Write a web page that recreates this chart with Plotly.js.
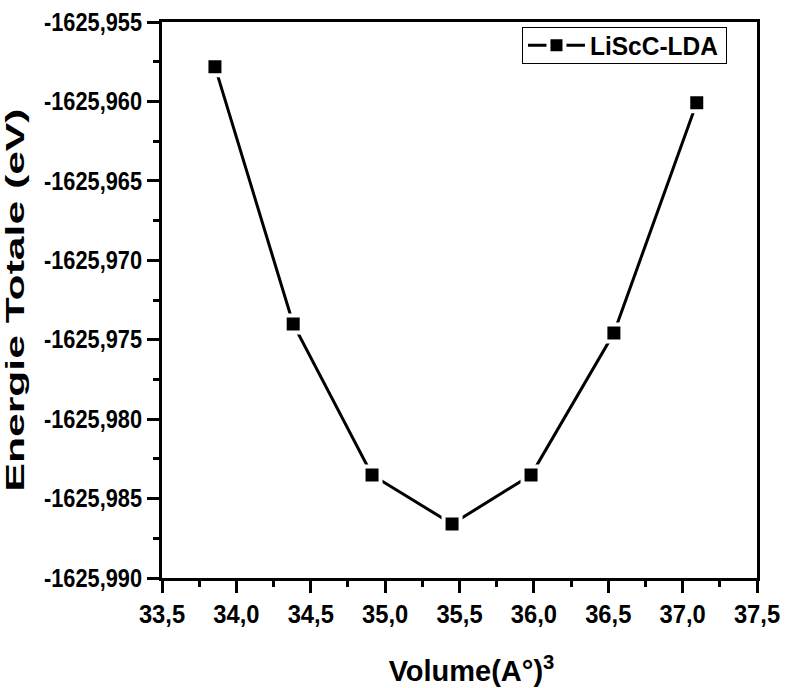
<!DOCTYPE html>
<html>
<head>
<meta charset="utf-8">
<script src="https://cdn.plot.ly/plotly-3.0.1.min.js"></script>
<style>html,body{margin:0;padding:0;background:#fff;}#chart{width:785px;height:688px;}</style>
</head>
<body>
<div id="chart"></div>
<script>
// Data
const volume = [33.856, 34.382, 34.912, 35.450, 35.981, 36.538, 37.095];
const energy = [-1625.95781, -1625.97401, -1625.98352, -1625.98660, -1625.98352, -1625.97458, -1625.96008];
const seriesName = 'LiScC-LDA';

const xTickVals = [33.5, 34.0, 34.5, 35.0, 35.5, 36.0, 36.5, 37.0, 37.5];
const xTickText = ['33,5', '34,0', '34,5', '35,0', '35,5', '36,0', '36,5', '37,0', '37,5'];
const yTickVals = [-1625.990, -1625.985, -1625.980, -1625.975, -1625.970, -1625.965, -1625.960, -1625.955];
const yTickText = ['-1625,990', '-1625,985', '-1625,980', '-1625,975', '-1625,970', '-1625,965', '-1625,960', '-1625,955'];

const FONT = 'Liberation Sans, Arial, sans-serif';

const trace = {
  x: volume,
  y: energy,
  name: seriesName,
  type: 'scatter',
  mode: 'lines+markers',
  line: {color: '#000', width: 3},
  marker: {symbol: 'square', size: 17, color: '#000', line: {color: '#fff', width: 4}},
  showlegend: true
};

const axisCommon = {
  showline: true, linecolor: '#000', linewidth: 3, mirror: true,
  showgrid: false, zeroline: false,
  ticks: 'outside', ticklen: 12, tickwidth: 3, tickcolor: '#000',
  tickfont: {family: FONT, size: 25, color: '#000', weight: 700},
  tickmode: 'array'
};

const layout = {
  width: 785, height: 688,
  margin: {l: 162, r: 28, t: 22, b: 110},
  paper_bgcolor: '#fff', plot_bgcolor: '#fff',
  showlegend: true,
  legend: {
    x: 0.605, y: 1.002, xanchor: 'left', yanchor: 'top',
    bordercolor: '#000', borderwidth: 1, bgcolor: '#fff',
    font: {family: FONT, size: 26, color: '#000', weight: 700},
    itemwidth: 57
  },
  xaxis: Object.assign({}, axisCommon, {
    range: [33.5, 37.5],
    tickvals: xTickVals, ticktext: xTickText,
    minor: {tickmode: 'linear', tick0: 33.5, dtick: 0.25, ticks: 'outside', ticklen: 6, tickwidth: 3, tickcolor: '#000'},
    title: {text: 'Volume(A°)<sup>3</sup>', font: {family: FONT, size: 29, color: '#000', weight: 700}, standoff: 34}
  }),
  yaxis: Object.assign({}, axisCommon, {
    range: [-1625.990, -1625.955],
    tickvals: yTickVals, ticktext: yTickText,
    minor: {tickmode: 'linear', tick0: -1625.990, dtick: 0.0025, ticks: 'outside', ticklen: 6, tickwidth: 3, tickcolor: '#000'},
    title: {text: 'Energie Totale (eV)', font: {family: FONT, size: 26, color: '#000', weight: 700}, standoff: 4}
  })
};

function squeeze(el, factor) {
  const w = el.getComputedTextLength();
  if (w > 0) {
    el.setAttribute('textLength', (w * factor).toFixed(1));
    el.setAttribute('lengthAdjust', 'spacingAndGlyphs');
  }
}
function setLength(el, len) {
  if (!el) return;
  el.setAttribute('textLength', len);
  el.setAttribute('lengthAdjust', 'spacingAndGlyphs');
}

Plotly.newPlot('chart', [trace], layout, {displayModeBar: false, responsive: false}).then(function (gd) {
  gd.querySelectorAll('.xtick text').forEach(function (t) { squeeze(t, 0.95); });
  gd.querySelectorAll('.ytick text').forEach(function (t) { squeeze(t, 0.87); });
  setLength(gd.querySelector('text.ytitle'), 383);
  const xt = gd.querySelector('text.xtitle');
  if (xt) {
    const tr = xt.getAttribute('transform') || '';
    xt.setAttribute('transform', 'translate(12,0) ' + tr);
  }
  const lt = gd.querySelector('.legend text.legendtext');
  if (lt) setLength(lt, 128);
  // tighten the legend frame around its single entry
  const bg = gd.querySelector('.legend rect.bg');
  if (bg) {
    const h = parseFloat(bg.getAttribute('height'));
    const y = parseFloat(bg.getAttribute('y') || 0);
    const newH = 36;
    bg.setAttribute('y', (y + (h - newH) / 2).toFixed(1));
    bg.setAttribute('height', newH);
    const r = bg.getBoundingClientRect();
    const w = parseFloat(bg.getAttribute('width'));
    bg.setAttribute('width', (w - (r.right - 727)).toFixed(1));
  }
});
</script>
</body>
</html>
